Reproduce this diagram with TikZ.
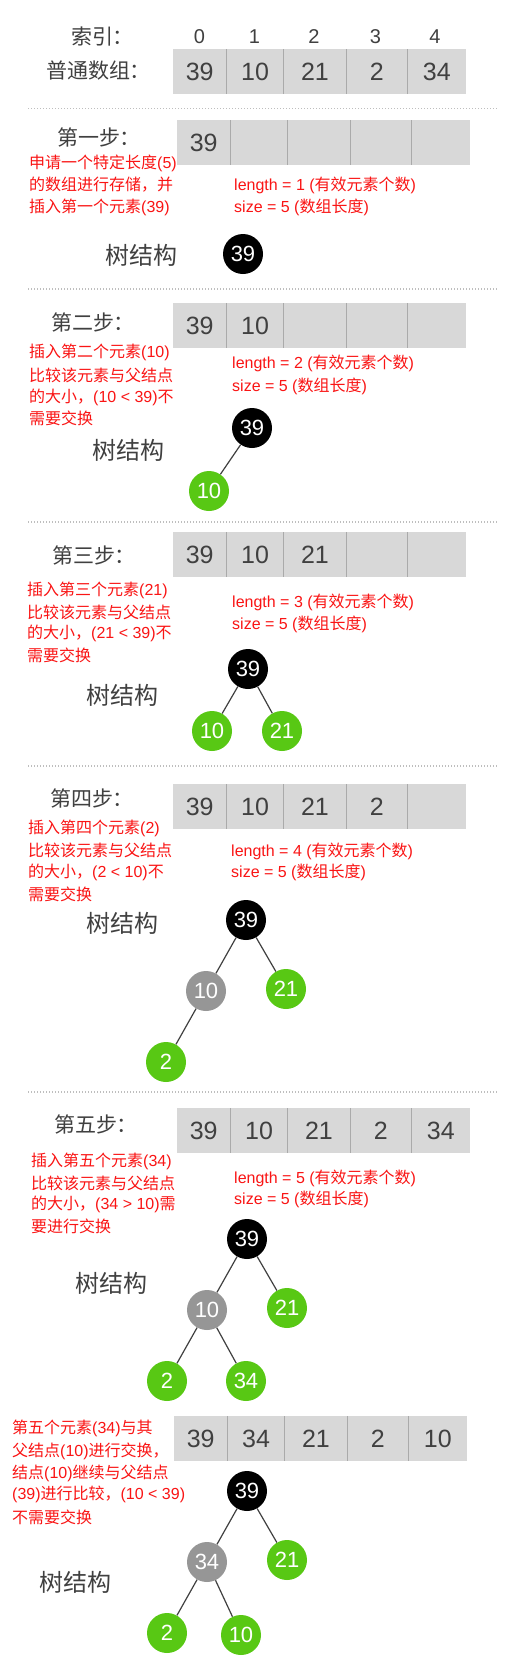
\documentclass[tikz,border=0pt]{standalone}
\usepackage{fontspec}
\setmainfont{Noto Sans CJK SC}
\newfontfamily\lat{Liberation Sans}
\definecolor{cellgray}{RGB}{216,216,216}
\definecolor{divgray}{RGB}{170,170,170}
\definecolor{txt}{RGB}{64,64,64}
\definecolor{myred}{RGB}{250,20,20}
\definecolor{mygreen}{RGB}{88,200,20}
\definecolor{nodegray}{RGB}{150,150,150}
\definecolor{dotgray}{RGB}{190,190,190}
\definecolor{edgec}{RGB}{64,64,64}
\tikzset{
 cellbox/.style={fill=cellgray, minimum height=45pt, inner sep=0pt, anchor=north west, font=\lat\fontsize{25}{25}\selectfont, text=txt},
 divline/.style={draw=divgray, line width=1pt},
 sepline/.style={draw=dotgray, line width=1.2pt, dash pattern=on 1.2pt off 1.8pt},
 title/.style={font=\fontsize{21}{21}\selectfont, text=txt, inner sep=0pt, anchor=west},
 idx/.style={font=\lat\fontsize{20}{20}\selectfont, text=txt, inner sep=0pt},
 treelabel/.style={font=\fontsize{24}{24}\selectfont, text=txt, inner sep=0pt},
 note/.style={font=\fontsize{16}{16}\selectfont, text=myred, anchor=west, inner sep=0pt},
 tnode/.style={circle, minimum size=40pt, inner sep=0pt, text=white, font=\lat\fontsize{22}{22}\selectfont},
 blk/.style={tnode, fill=black},
 grn/.style={tnode, fill=mygreen},
 gry/.style={tnode, fill=nodegray},
 edge/.style={draw=edgec, line width=1.2pt},
}
\newcommand\myarr[8]{%
 \node[cellbox, minimum width=53pt] (#1a) at (#2,#3) {#4};
 \node[cellbox, minimum width=57pt] (#1b) at (#1a.north east) {#5};
 \node[cellbox, minimum width=62pt] (#1c) at (#1b.north east) {#6};
 \node[cellbox, minimum width=61pt] (#1d) at (#1c.north east) {#7};
 \node[cellbox, minimum width=58pt] (#1e) at (#1d.north east) {#8};
 \draw[divline] (#1a.north east) -- (#1a.south east);
 \draw[divline] (#1b.north east) -- (#1b.south east);
 \draw[divline] (#1c.north east) -- (#1c.south east);
 \draw[divline] (#1d.north east) -- (#1d.south east);
}
\newcommand\lt[1]{{\lat #1}}
\newcommand\colo{\hspace{-0.05em}：}
\begin{document}
\begin{tikzpicture}[x=1pt,y=-1pt]
\useasboundingbox (0,0) rectangle (510,1679);
\fill[white] (0,0) rectangle (510,1679);

% ---- header
\node[title] (hidx) at (71,37) {索引\colo};
\node[title] (harr) at (46,71) {普通数组\colo};
\node[idx] (i0) at (199.5,37) {0};
\node[idx] (i1) at (254.5,37) {1};
\node[idx] (i2) at (314,37) {2};
\node[idx] (i3) at (375.5,37) {3};
\node[idx] (i4) at (435,37) {4};
\myarr{h}{173}{49}{39}{10}{21}{2}{34}
\draw[sepline] (28,108.5) -- (498,108.5);

% ---- step 1
\node[title] (t1) at (57,137) {第一步\colo};
\myarr{a}{177}{120}{39}{}{}{}{}
\node[note] (n1a) at (29,163) {申请一个特定长度\lt{(5)}};
\node[note] (n1b) at (29,185) {的数组进行存储，并};
\node[note] (n1c) at (29,207) {插入第一个元素\lt{(39)}};
\node[note] (l1a) at (234,185) {\lt{length = 1 (}有效元素个数\lt{)}};
\node[note] (l1b) at (234,207) {\lt{size = 5 (}数组长度\lt{)}};
\node[treelabel] (tl1) at (141,255) {树结构};
\node[blk] (s1r) at (243,254) {39};
\draw[sepline] (28,289) -- (498,289);

% ---- step 2
\node[title] (t2) at (51,322) {第二步\colo};
\myarr{b}{173}{303}{39}{10}{}{}{}
\node[note] (n2a) at (29,352) {插入第二个元素\lt{(10)}};
\node[note] (n2b) at (29,375) {比较该元素与父结点};
\node[note] (n2c) at (29,397) {的大小，\lt{(10 < 39)}不};
\node[note] (n2d) at (29,418) {需要交换};
\node[note] (l2a) at (232,363) {\lt{length = 2 (}有效元素个数\lt{)}};
\node[note] (l2b) at (232,386) {\lt{size = 5 (}数组长度\lt{)}};
\node[treelabel] (tl2) at (128,450) {树结构};
\node[blk] (s2r) at (252,428) {39};
\node[grn] (s2l) at (209,491) {10};
\draw[edge] (s2r) -- (s2l);
\draw[sepline] (28,522) -- (498,522);

% ---- step 3
\node[title] (t3) at (52,555) {第三步\colo};
\myarr{c}{173}{532}{39}{10}{21}{}{}
\node[note] (n3a) at (27,590) {插入第三个元素\lt{(21)}};
\node[note] (n3b) at (27,612) {比较该元素与父结点};
\node[note] (n3c) at (27,633) {的大小，\lt{(21 < 39)}不};
\node[note] (n3d) at (27,655) {需要交换};
\node[note] (l3a) at (232,602) {\lt{length = 3 (}有效元素个数\lt{)}};
\node[note] (l3b) at (232,624) {\lt{size = 5 (}数组长度\lt{)}};
\node[treelabel] (tl3) at (122,695) {树结构};
\node[blk] (s3r) at (248,669) {39};
\node[grn] (s3l) at (212,731) {10};
\node[grn] (s3m) at (282,731) {21};
\draw[edge] (s3r) -- (s3l);
\draw[edge] (s3r) -- (s3m);
\draw[sepline] (28,766) -- (498,766);

% ---- step 4
\node[title] (t4) at (50,798) {第四步\colo};
\myarr{d}{173}{784}{39}{10}{21}{2}{}
\node[note] (n4a) at (28,828) {插入第四个元素\lt{(2)}};
\node[note] (n4b) at (28,850) {比较该元素与父结点};
\node[note] (n4c) at (28,872) {的大小，\lt{(2 < 10)}不};
\node[note] (n4d) at (28,894) {需要交换};
\node[note] (l4a) at (231,851) {\lt{length = 4 (}有效元素个数\lt{)}};
\node[note] (l4b) at (231,872) {\lt{size = 5 (}数组长度\lt{)}};
\node[treelabel] (tl4) at (122,923) {树结构};
\node[blk] (s4r) at (246,920) {39};
\node[gry] (s4l) at (206,991) {10};
\node[grn] (s4m) at (286,989) {21};
\node[grn] (s4ll) at (166,1062) {2};
\draw[edge] (s4r) -- (s4l);
\draw[edge] (s4r) -- (s4m);
\draw[edge] (s4l) -- (s4ll);
\draw[sepline] (28,1092) -- (498,1092);

% ---- step 5
\node[title] (t5) at (54,1124) {第五步\colo};
\myarr{e}{177}{1108}{39}{10}{21}{2}{34}
\node[note] (n5a) at (31,1161) {插入第五个元素\lt{(34)}};
\node[note] (n5b) at (31,1183) {比较该元素与父结点};
\node[note] (n5c) at (31,1204) {的大小，\lt{(34 > 10)}需};
\node[note] (n5d) at (31,1226) {要进行交换};
\node[note] (l5a) at (234,1178) {\lt{length = 5 (}有效元素个数\lt{)}};
\node[note] (l5b) at (234,1199) {\lt{size = 5 (}数组长度\lt{)}};
\node[treelabel] (tl5) at (111,1283) {树结构};
\node[blk] (s5r) at (247,1239) {39};
\node[gry] (s5l) at (207,1310) {10};
\node[grn] (s5m) at (287,1308) {21};
\node[grn] (s5ll) at (167,1381) {2};
\node[grn] (s5lr) at (246,1381) {34};
\draw[edge] (s5r) -- (s5l);
\draw[edge] (s5r) -- (s5m);
\draw[edge] (s5l) -- (s5ll);
\draw[edge] (s5l) -- (s5lr);

% ---- step 6 (swap)
\myarr{f}{174}{1416}{39}{34}{21}{2}{10}
\node[note] (n6a) at (12,1428) {第五个元素\lt{(34)}与其};
\node[note] (n6b) at (12,1451) {父结点\lt{(10)}进行交换，};
\node[note] (n6c) at (12,1473) {结点\lt{(10)}继续与父结点};
\node[note] (n6d) at (12,1494) {\lt{(39)}进行比较，\lt{(10 < 39)}};
\node[note] (n6e) at (12,1517) {不需要交换};
\node[treelabel] (tl6) at (75,1582) {树结构};
\node[blk] (s6r) at (247,1491) {39};
\node[gry] (s6l) at (207,1562) {34};
\node[grn] (s6m) at (287,1560) {21};
\node[grn] (s6ll) at (167,1633) {2};
\node[grn] (s6lr) at (241,1635) {10};
\draw[edge] (s6r) -- (s6l);
\draw[edge] (s6r) -- (s6m);
\draw[edge] (s6l) -- (s6ll);
\draw[edge] (s6l) -- (s6lr);
\end{tikzpicture}
\end{document}
